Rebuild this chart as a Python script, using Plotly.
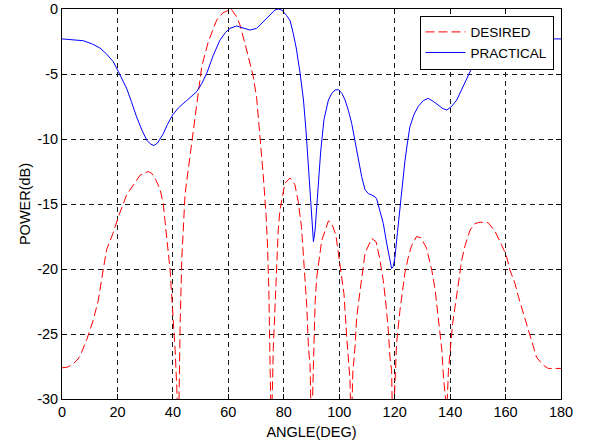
import plotly.graph_objects as go

# DESIRED pattern (angle in deg, power in dB); values below -30 are clipped by the axis
desired_angle = [0, 2, 4, 5.5, 6.5, 8, 9, 11.3, 13.1, 14.9, 16.1, 18.5, 20.3, 23.3, 25.7, 28.1, 31.1, 32.4, 34, 35.4,
                 36.5, 38.4, 39.0, 39.9, 40.8, 41.4, 42.0, 42.6, 43.2, 44.4, 45, 46.8, 48.6, 50.4, 52.8, 55.8, 58, 61,
                 63, 64.2, 66.6, 69.0, 70.2, 71.4, 72.6, 73.6, 74.1, 74.6, 75.0, 75.5, 76.2, 76.8, 77.2, 78.0, 78.6,
                 79.8, 80.4, 82.3, 84.0, 85.2, 86.4, 87.1, 87.7, 88.3, 88.9, 89.5, 90.0, 91.3, 91.9, 93.1, 93.7, 96.1,
                 97.3, 98.8, 100.0, 100.9, 101.7, 102.7, 103.3, 103.9, 104.3, 104.9, 105.7, 106.3, 107.5, 108.7, 109.3,
                 111.7, 113.3, 114.7, 115.9, 116.8, 117.7, 118.3, 118.9, 119.3, 120.1, 120.7, 121.9, 123.1, 123.7,
                 124.9, 126.1, 127.9, 129.5, 131.5, 133.4, 134.6, 135.8, 137.0, 137.6, 138.8, 139.4, 140.2, 140.9,
                 141.8, 143.0, 144.2, 145.4, 147.2, 149.0, 150.8, 153.8, 156.2, 158.0, 160.2, 161.6, 163.4, 164.6,
                 166.4, 168.2, 169.4, 171.2, 173.6, 175.4, 177.8, 180]
desired_db = [-27.6, -27.55, -27.3, -27.0, -26.7, -26.0, -25.4, -23.9, -22.4, -20.0, -18.5, -17.2, -16.0, -14.3, -13.5,
              -12.8, -12.5, -12.65, -13.2, -13.9, -14.95, -18.5, -20.1, -23.2, -26.2, -29.1, -33, -24.4, -19.3, -14.2,
              -13.2, -10.0, -7.0, -4.44, -2.5, -0.85, -0.3, 0, -0.6, -1.23, -3.15, -5.2, -6.8, -9.5, -12.8, -15.8,
              -18.0, -21.5, -25.5, -33, -26.2, -23.2, -20.6, -17.0, -15.5, -13.9, -13.4, -13.0, -13.5, -14.8, -16.8,
              -19.0, -20.8, -22.9, -26.0, -27.5, -33, -22.6, -20.6, -18.8, -17.8, -16.3, -16.5, -17.4, -19.1, -20.6,
              -21.9, -25.2, -27.3, -28.6, -33, -28.0, -26.0, -23.7, -21.7, -19.6, -18.8, -17.65, -17.9, -19.3, -20.9,
              -22.6, -24.7, -26.8, -27.8, -33, -28.3, -25.7, -23.2, -21.1, -20.3, -19.1, -18.2, -17.5, -17.6, -18.4,
              -20.1, -21.6, -23.7, -26.2, -28.3, -31, -27.8, -26.0, -24.2, -22.9, -21.1, -19.3, -18.2, -17.0, -16.5,
              -16.4, -16.45, -17.1, -17.9, -18.9, -20.1, -21.1, -22.1, -23.4, -24.7, -25.7, -26.8, -27.4, -27.65,
              -27.65, -27.65]

# PRACTICAL pattern
practical_angle = [0, 4, 7.7, 11, 13.7, 16, 18.5, 20.3, 23.3, 25, 26.9, 28.8, 30.6, 32, 33.2, 34.5, 36.5, 38, 39.9, 42,
                   43.8, 46, 48.6, 50.5, 52.2, 54.5, 57.0, 59, 60.6, 63.0, 65.5, 67.8, 70.2, 72, 73.8, 75.5, 76.8, 78,
                   79.3, 81, 82.3, 83.4, 84.5, 85.9, 87.1, 88.0, 88.9, 89.6, 90.1, 90.7, 91.3, 92.0, 92.5, 93.3, 94.5,
                   96.1, 97.3, 98.5, 99.7, 101, 102.1, 103.3, 104.5, 105.7, 106.9, 108.1, 109.3, 110.5, 111.7, 112.9,
                   113.5, 114.7, 115.9, 117.1, 118.2, 118.9, 119.5, 120.1, 121.0, 121.9, 122.8, 123.7, 124.6, 125.5,
                   127, 128.5, 130.3, 132.1, 133.9, 135.7, 137.3, 138.8, 140.5, 142.4, 144.8, 147.2, 149, 150.8, 153,
                   156, 160, 165, 170, 175, 180]
practical_db = [-2.3, -2.35, -2.44, -2.7, -3.0, -3.45, -4.05, -4.8, -6.1, -7.1, -8.3, -9.3, -10.1, -10.4, -10.5, -10.3,
                -9.6, -8.9, -8.15, -7.6, -7.26, -6.9, -6.36, -5.7, -4.95, -3.6, -2.38, -1.8, -1.49, -1.31, -1.45, -1.62,
                -1.49, -1.1, -0.72, -0.3, -0.08, 0, -0.08, -0.5, -0.9, -1.87, -3.0, -4.95, -7.0, -9.3, -12.1, -14.5,
                -16.2, -17.9, -17.0, -15.0, -13.4, -11.0, -8.5, -7.0, -6.5, -6.23, -6.2, -6.5, -7.0, -7.8, -8.8, -10.1,
                -11.6, -12.9, -13.9, -14.2, -14.3, -14.45, -14.6, -15.5, -16.5, -18.0, -19.3, -19.96, -19.8, -19.1,
                -17.2, -15.2, -13.3, -11.7, -10.3, -9.06, -8.1, -7.5, -7.05, -6.87, -7.1, -7.4, -7.65, -7.77, -7.5,
                -7.0, -5.9, -4.7, -4.0, -3.4, -3.0, -2.65, -2.45, -2.35, -2.3, -2.3, -2.3]

x_ticks = [0, 20, 40, 60, 80, 100, 120, 140, 160, 180]
y_ticks = [0, -5, -10, -15, -20, -25, -30]

FONT = "Liberation Sans, Arial"
FS = 14.5

fig = go.Figure()
fig.add_trace(go.Scatter(x=desired_angle, y=desired_db, mode="lines", name="DESIRED",
                         line=dict(color="#ff0000", width=1, dash="9px,4px")))
fig.add_trace(go.Scatter(x=practical_angle, y=practical_db, mode="lines", name="PRACTICAL",
                         line=dict(color="#0000ff", width=1)))

axis_common = dict(showline=True, linecolor="black", linewidth=1, mirror="ticks", ticks="inside",
                   ticklen=5, tickcolor="black", showgrid=True, gridcolor="#1a1a1a", gridwidth=1,
                   griddash="5px,4px", zeroline=False, automargin=False,
                   tickfont=dict(family=FONT, size=FS, color="black"))

fig.update_xaxes(range=[0, 180], tickvals=x_ticks, ticktext=[str(v) for v in x_ticks],
                 title=dict(text="ANGLE(DEG)", font=dict(family=FONT, size=FS, color="black"),
                            standoff=7), **axis_common)
fig.update_yaxes(range=[-30, 0], tickvals=y_ticks, ticktext=[str(v) for v in y_ticks],
                 title=dict(text="POWER(dB)", font=dict(family=FONT, size=FS, color="black"),
                            standoff=3), **axis_common)

fig.update_layout(
    width=590, height=443,
    margin=dict(l=62, r=29, t=9, b=44, autoexpand=False),
    paper_bgcolor="white", plot_bgcolor="white",
    showlegend=True,
    legend=dict(x=0.985, y=0.983, xanchor="right", yanchor="top", bgcolor="white",
                bordercolor="black", borderwidth=1,
                font=dict(family=FONT, size=13.5, color="black"),
                tracegroupgap=0, itemwidth=40),
)

fig.write_html("out.html", config={"displayModeBar": False},
               post_script="document.body.style.margin='0px';document.body.style.overflow='hidden';")
